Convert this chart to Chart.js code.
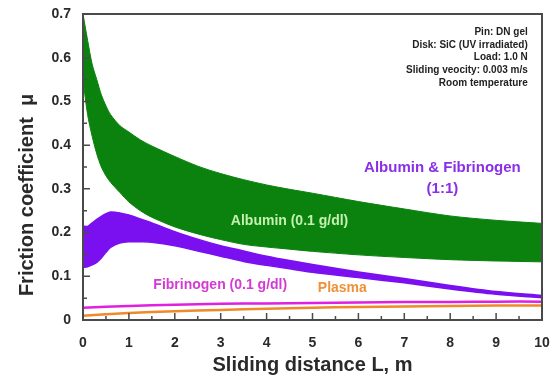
<!DOCTYPE html>
<html><head><meta charset="utf-8">
<script src="https://cdn.jsdelivr.net/npm/chart.js@4/dist/chart.umd.min.js"></script>
<style>html,body{margin:0;padding:0;background:#fff;}#wrap{width:554px;height:376px;}</style>
</head><body><div id="wrap"><canvas id="c"></canvas></div>
<script>
// Sliding distance sample points (m)
const distance = [0,0.1,0.2,0.3,0.4,0.5,0.6,0.8,1,1.25,1.5,2,2.5,3,3.5,4,4.5,5,6,7,8,9,10];
// Albumin (0.1 g/dl) band envelope
const albuminUpper = [0.70,0.64,0.585,0.55,0.515,0.49,0.47,0.445,0.43,0.412,0.398,0.374,0.352,0.335,0.321,0.309,0.299,0.29,0.271,0.254,0.238,0.228,0.221];
const albuminLower = [0.55,0.47,0.42,0.38,0.35,0.33,0.315,0.292,0.27,0.25,0.235,0.213,0.197,0.184,0.173,0.167,0.162,0.157,0.149,0.143,0.138,0.135,0.133];
// Albumin & Fibrinogen (1:1) band envelope
const mixUpper = [0.215,0.214,0.222,0.23,0.237,0.243,0.247,0.245,0.24,0.231,0.222,0.202,0.185,0.17,0.158,0.146,0.136,0.127,0.11,0.095,0.079,0.065,0.056];
const mixLower = [0.12,0.122,0.126,0.132,0.142,0.155,0.166,0.176,0.179,0.179,0.178,0.17,0.158,0.146,0.134,0.125,0.117,0.109,0.097,0.085,0.071,0.059,0.051];
// Fibrinogen and Plasma lines
const lineDistance = [0,1,2,3,4,5,6,7,8,9,10];
const fibrinogen = [0.028,0.032,0.035,0.037,0.038,0.039,0.040,0.041,0.041,0.042,0.042];
const plasma = [0.010,0.016,0.020,0.023,0.026,0.028,0.030,0.031,0.032,0.033,0.033];
// Axis ticks
const xTicks = [0,1,2,3,4,5,6,7,8,9,10];
const yTicks = [0,0.1,0.2,0.3,0.4,0.5,0.6,0.7];

const pts = (xs, ys) => xs.map((x,i)=>({x, y: ys[i]}));
const GREEN = '#0b820e', PURPLE = '#7a10f0', MAGENTA = '#e020e0', ORANGE = '#f0892a';
const FONT = '"Liberation Sans", Arial, sans-serif';
const AXIS_COLOR = '#2a2a2a';

const annotations = [
  {text:'Albumin (0.1 g/dl)', x:4.5, y:0.226, color:'#c4f0b0', size:14},
  {text:'Albumin & Fibrinogen', x:7.83, y:0.349, color:'#8a2ee8', size:15},
  {text:'(1:1)', x:7.83, y:0.300, color:'#8a2ee8', size:15},
  {text:'Fibrinogen (0.1 g/dl)', x:2.99, y:0.080, color:'#d43ad4', size:14},
  {text:'Plasma', x:5.65, y:0.073, color:'#f0913a', size:14}
];
const infoLines = ['Pin: DN gel','Disk: SiC (UV irradiated)','Load: 1.0 N','Sliding veocity: 0.003 m/s','Room temperature'];
const yTitle = 'Friction coefficient  μ';

const decor = {
  id:'decor',
  afterDraw(chart){
    const ctx = chart.ctx, a = chart.chartArea, x = chart.scales.x, y = chart.scales.y;
    ctx.save();
    ctx.setLineDash([]); ctx.globalAlpha = 1;
    // frame
    ctx.strokeStyle = '#4a4a4a'; ctx.lineWidth = 2;
    ctx.beginPath();
    ctx.moveTo(a.left, a.top); ctx.lineTo(a.right, a.top); ctx.lineTo(a.right, a.bottom);
    ctx.lineTo(a.left, a.bottom); ctx.closePath();
    ctx.stroke();
    // inward ticks
    ctx.lineWidth = 1.5;
    ctx.beginPath();
    for (let k=0; k<=20; k++){
      const px = x.getPixelForValue(k*0.5);
      const len = k%2===0 ? 7 : 4;
      ctx.moveTo(px, a.bottom); ctx.lineTo(px, a.bottom-len);
    }
    for (let k=0; k<=14; k++){
      const py = y.getPixelForValue(k*0.05);
      const len = k%2===0 ? 7 : 4;
      ctx.moveTo(a.left, py); ctx.lineTo(a.left+len, py);
    }
    ctx.stroke();
    // annotations
    ctx.textAlign='center'; ctx.textBaseline='middle';
    annotations.forEach(t=>{
      ctx.font = 'bold '+t.size+'px '+FONT;
      ctx.fillStyle = t.color;
      ctx.fillText(t.text, x.getPixelForValue(t.x), y.getPixelForValue(t.y));
    });
    ctx.textAlign='right';
    ctx.font = 'bold 10px '+FONT;
    ctx.fillStyle = '#222';
    const rx = x.getPixelForValue(9.69);
    infoLines.forEach((s,i)=>{
      ctx.fillText(s, rx, y.getPixelForValue(0.658) + i*12.6);
    });
    // y-axis title
    ctx.save();
    ctx.translate(27, y.getPixelForValue(0.286));
    ctx.rotate(-Math.PI/2);
    ctx.textAlign='center'; ctx.textBaseline='middle';
    ctx.font = 'bold 20px '+FONT;
    ctx.fillStyle = AXIS_COLOR;
    ctx.fillText(yTitle, 0, 0);
    ctx.restore();
    ctx.restore();
  }
};

new Chart(document.getElementById('c'), {
  type:'line',
  data:{datasets:[
    {label:'Albumin upper', data:pts(distance, albuminUpper), borderColor:GREEN, backgroundColor:GREEN, borderWidth:1, pointRadius:0, fill:'+1', tension:0.3},
    {label:'Albumin lower', data:pts(distance, albuminLower), borderColor:GREEN, backgroundColor:GREEN, borderWidth:1, pointRadius:0, fill:false, tension:0.3},
    {label:'Mix upper', data:pts(distance, mixUpper), borderColor:PURPLE, backgroundColor:PURPLE, borderWidth:1.5, pointRadius:0, fill:'+1', tension:0.3},
    {label:'Mix lower', data:pts(distance, mixLower), borderColor:PURPLE, backgroundColor:PURPLE, borderWidth:1.5, pointRadius:0, fill:false, tension:0.3},
    {label:'Fibrinogen', data:pts(lineDistance, fibrinogen), borderColor:MAGENTA, borderWidth:2.5, pointRadius:0, fill:false, tension:0.3},
    {label:'Plasma', data:pts(lineDistance, plasma), borderColor:ORANGE, borderWidth:2.5, pointRadius:0, fill:false, tension:0.3}
  ]},
  options:{
    responsive:true, maintainAspectRatio:false, animation:false,
    layout:{padding:{top:14, right:12, left:0, bottom:0}},
    plugins:{legend:{display:false}, tooltip:{enabled:false}},
    scales:{
      x:{type:'linear', min:0, max:10,
        afterBuildTicks(s){ s.ticks = xTicks.map(v=>({value:v})); },
        afterFit(s){ s.height = 56; s.paddingLeft = 0; s.paddingRight = 0; },
        grid:{display:false, drawTicks:false}, border:{display:false},
        ticks:{padding:15, color:AXIS_COLOR, font:{family:FONT, size:14, weight:'bold'}, maxRotation:0},
        title:{display:true, text:'Sliding distance L, m', color:AXIS_COLOR, font:{family:FONT, size:20, weight:'bold'}, padding:{top:0,bottom:-1}}
      },
      y:{type:'linear', min:0, max:0.7,
        afterBuildTicks(s){ s.ticks = yTicks.map(v=>({value:v})); },
        afterFit(s){ s.width = 83; s.paddingTop = 0; s.paddingBottom = 0; },
        grid:{display:false, drawTicks:false}, border:{display:false},
        ticks:{padding:12, color:AXIS_COLOR, font:{family:FONT, size:14, weight:'bold'}, callback:v=> v===0 ? '0' : v.toFixed(1)},
        title:{display:false}
      }
    }
  },
  plugins:[decor]
});
</script></body></html>
